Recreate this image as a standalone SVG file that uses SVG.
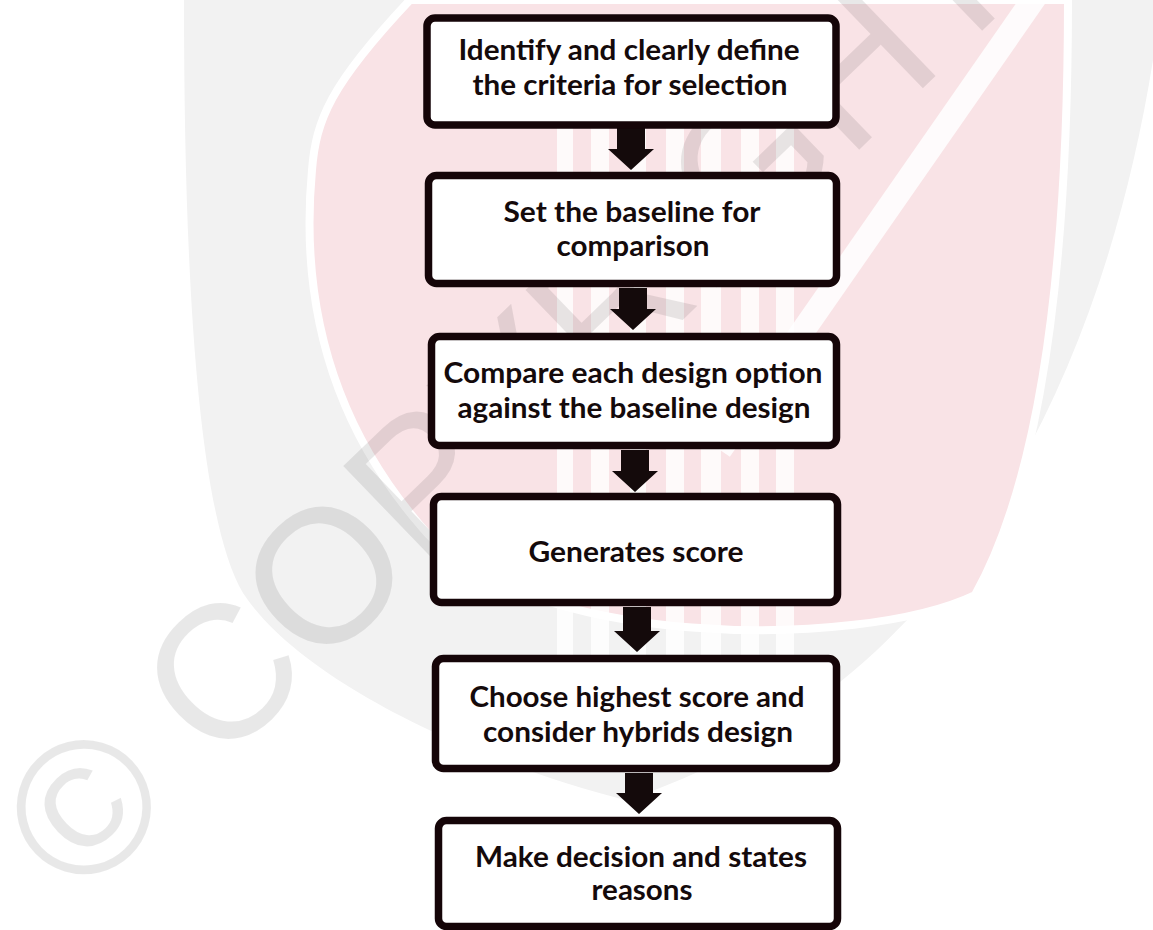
<svg xmlns="http://www.w3.org/2000/svg" width="1153" height="930" viewBox="0 0 1153 930">
  <style>
    .box { fill: #ffffff; stroke: #150508; stroke-width: 7.5; }
    .lbl { font-family: Lato, "Liberation Sans", sans-serif; font-weight: 700; font-size: 29px; fill: #140a0b; text-anchor: middle; }
    .arrow { fill: #140a0b; }
    .wm { font-family: "Liberation Sans", Arial, sans-serif; font-size: 190px; fill: #000000; fill-opacity: 0.09; }
    .pillar { fill: #ffffff; fill-opacity: 0.8; }
  </style>

  <!-- page -->
  <rect x="0" y="0" width="1153" height="930" fill="#ffffff"/>

  <!-- background crest -->
  <g id="crest">
    <path d="M 184,0 L 1153,0 L 1153,60 C 1110,330 1000,560 830,690 C 760,745 690,780 625,800 C 470,760 300,680 243,593 C 200,520 184,300 184,0 Z" fill="#f2f2f2"/>
    <path d="M 410,0 L 1068,0 C 1068,250 1045,470 975,595 C 860,650 520,650 420,525 C 330,420 300,300 312,170 C 316,120 330,85 410,0 Z" fill="#f9e3e6" stroke="#ffffff" stroke-width="8"/>
    <line x1="1040" y1="-10" x2="720" y2="450" stroke="#ffffff" stroke-width="24" stroke-opacity="0.85"/>
    <rect class="pillar" x="557" y="120" width="16" height="570"/>
    <rect class="pillar" x="591" y="120" width="18" height="570"/>
    <rect class="pillar" x="630" y="120" width="16" height="570"/>
    <rect class="pillar" x="666" y="120" width="18" height="570"/>
    <rect class="pillar" x="701" y="120" width="20" height="570"/>
    <rect class="pillar" x="741" y="120" width="18" height="570"/>
    <rect class="pillar" x="776" y="120" width="18" height="570"/>
    <text class="wm" transform="translate(79,903) rotate(-44)">© COPYRIGHT</text>
  </g>

  <!-- connectors -->
  <g id="connectors">
    <path class="arrow" d="M 617,128 L 645,128 L 645,149 L 654,149 L 631,170 L 608,149 L 617,149 Z"/>
    <path class="arrow" d="M 619,288 L 647,288 L 647,309 L 656,309 L 633,330 L 610,309 L 619,309 Z"/>
    <path class="arrow" d="M 621,450 L 649,450 L 649,471 L 658,471 L 635,492 L 612,471 L 621,471 Z"/>
    <path class="arrow" d="M 623,607 L 651,607 L 651,631 L 660,631 L 637,652 L 614,631 L 623,631 Z"/>
    <path class="arrow" d="M 625,773 L 653,773 L 653,793 L 662,793 L 639,814 L 616,793 L 625,793 Z"/>
  </g>

  <g id="n1">
    <rect class="box" x="427" y="18" width="409" height="107" rx="8"/>
    <text class="lbl" x="629" y="60" textLength="341" lengthAdjust="spacingAndGlyphs">Identify and clearly define</text>
    <text class="lbl" x="630" y="95" textLength="315" lengthAdjust="spacingAndGlyphs">the criteria for selection</text>
  </g>
  <g id="n2">
    <rect class="box" x="428.5" y="175.5" width="408" height="108" rx="8"/>
    <text class="lbl" x="632" y="222" textLength="257" lengthAdjust="spacingAndGlyphs">Set the baseline for</text>
    <text class="lbl" x="633" y="256" textLength="153" lengthAdjust="spacingAndGlyphs">comparison</text>
  </g>
  <g id="n3">
    <rect class="box" x="431.5" y="336.5" width="405" height="109" rx="8"/>
    <text class="lbl" x="633" y="383" textLength="379" lengthAdjust="spacingAndGlyphs">Compare each design option</text>
    <text class="lbl" x="634" y="418" textLength="353" lengthAdjust="spacingAndGlyphs">against the baseline design</text>
  </g>
  <g id="n4">
    <rect class="box" x="433.5" y="496.5" width="404" height="106" rx="8"/>
    <text class="lbl" x="636" y="562" textLength="215" lengthAdjust="spacingAndGlyphs">Generates score</text>
  </g>
  <g id="n5">
    <rect class="box" x="435.5" y="658.5" width="401" height="110" rx="8"/>
    <text class="lbl" x="637" y="707" textLength="335" lengthAdjust="spacingAndGlyphs">Choose highest score and</text>
    <text class="lbl" x="638" y="742" textLength="310" lengthAdjust="spacingAndGlyphs">consider hybrids design</text>
  </g>
  <g id="n6">
    <rect class="box" x="438.5" y="820.5" width="399" height="106" rx="8"/>
    <text class="lbl" x="641" y="867" textLength="332" lengthAdjust="spacingAndGlyphs">Make decision and states</text>
    <text class="lbl" x="642" y="900" textLength="101" lengthAdjust="spacingAndGlyphs">reasons</text>
  </g>
</svg>
